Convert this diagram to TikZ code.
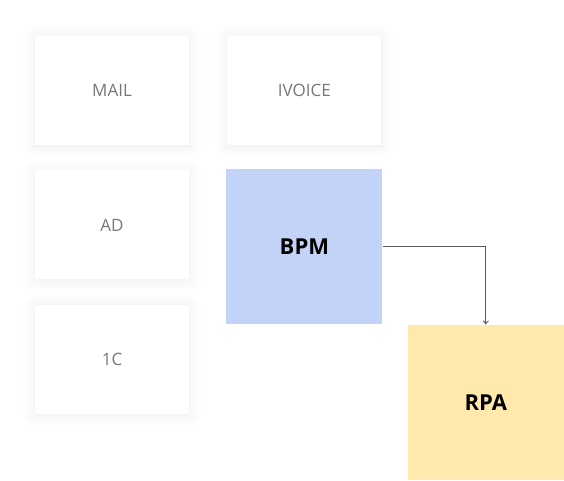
\documentclass[tikz,border=0pt]{standalone}
\usepackage{fontspec}
\setmainfont{Open Sans}
\usetikzlibrary{positioning, arrows.meta, shadows.blur}
\definecolor{bpmblue}{HTML}{C2D3F7}
\definecolor{rpayellow}{HTML}{FFE9AD}
\definecolor{labelgray}{HTML}{787878}
\tikzset{
  % Systems around the process
  sysbox/.style  = { fill=white, minimum width=154pt, minimum height=109pt,
                     inner sep=0, text=labelgray, font=\fontsize{17}{20}\selectfont,
                     blur shadow={shadow xshift=0pt, shadow yshift=-1pt,
                                  shadow blur radius=12pt, shadow opacity=8} },
  % Process blocks
  corebox/.style = { minimum width=156pt, minimum height=155pt, inner sep=0,
                     font=\fontsize{22}{26}\selectfont\bfseries },
  flow/.style    = { draw=black!65, line width=0.9pt, -{To[length=4pt,width=6pt]} }
}

\begin{document}
\begin{tikzpicture}[node distance=25pt and 38pt]

  \useasboundingbox (0,0) rectangle (564pt,-480pt);

  \node[sysbox] (mail) at (112pt,-90.5pt) {MAIL};
  \node[sysbox, right=of mail] (ivoice) {IVOICE};
  \node[sysbox, below=of mail] (ad) {AD};
  \node[sysbox, below=of ad] (onec) {1C};

  \node[corebox, fill=bpmblue, below=24pt of ivoice] (bpm) {BPM};
  \node[corebox, fill=rpayellow, below right=0pt and 25pt of bpm] (rpa) {RPA};

  \draw[flow] (bpm.east) -| (rpa.north);

\end{tikzpicture}
\end{document}
